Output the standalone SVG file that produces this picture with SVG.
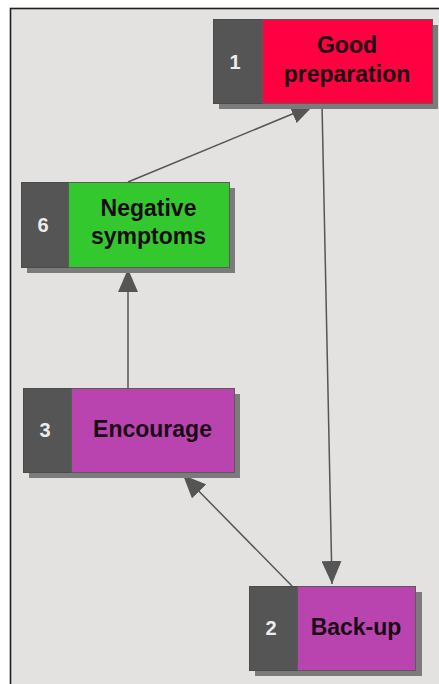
<svg xmlns="http://www.w3.org/2000/svg" width="439" height="684" viewBox="0 0 439 684">
  <style>
    .shadow { fill: #7b7b7b; }
    .tab { fill: #555555; stroke: #4a4a4a; stroke-width: 1; }
    .body { stroke: #5a5a5a; stroke-width: 1; }
    .num { font-family: "Liberation Sans", Arial, sans-serif; font-weight: bold; font-size: 20px; fill: #ececec; text-anchor: middle; }
    .label { font-family: "Liberation Sans", Arial, sans-serif; font-weight: bold; font-size: 23px; fill: #1a0a14; text-anchor: middle; }
    .edge { stroke: #555555; stroke-width: 1.5; fill: none; marker-end: url(#arrow); }
  </style>
  <defs>
    <marker id="arrow" markerUnits="userSpaceOnUse" markerWidth="24" markerHeight="20" refX="23" refY="10" orient="auto">
      <path d="M0,0 L23,10 L0,20 Z" fill="#555555"/>
    </marker>
  </defs>

  <!-- page background and frame -->
  <rect x="0" y="0" width="439" height="684" fill="#ffffff"/>
  <rect x="10.5" y="8.5" width="440" height="690" fill="#e3e2e0" stroke="#1e1e1e" stroke-width="1.6"/>

  <!-- connectors -->
  <g id="connectors">
    <line class="edge" x1="322" y1="104" x2="332" y2="584"/>
    <line class="edge" x1="128" y1="182" x2="314" y2="105"/>
    <line class="edge" x1="128" y1="388" x2="128" y2="269"/>
    <line class="edge" x1="292" y1="586" x2="183" y2="475"/>
  </g>

  <!-- node 1 -->
  <g id="node1">
    <rect class="shadow" x="219" y="25" width="219" height="84"/>
    <rect class="tab" x="213.5" y="19.5" width="49" height="84"/>
    <rect class="body" x="262.5" y="19.5" width="170" height="84" fill="#ff0040"/>
    <text class="num" x="235" y="69">1</text>
    <text class="label" x="347" y="53">Good</text>
    <text class="label" x="347" y="82">preparation</text>
  </g>

  <!-- node 6 -->
  <g id="node6">
    <rect class="shadow" x="27" y="188" width="208" height="85"/>
    <rect class="tab" x="21.5" y="182.5" width="47" height="85"/>
    <rect class="body" x="68.5" y="182.5" width="161" height="85" fill="#33c92e"/>
    <text class="num" x="43" y="232">6</text>
    <text class="label" x="148.5" y="216">Negative</text>
    <text class="label" x="148.5" y="244">symptoms</text>
  </g>

  <!-- node 3 -->
  <g id="node3">
    <rect class="shadow" x="29" y="394" width="211" height="84"/>
    <rect class="tab" x="23.5" y="388.5" width="48" height="84"/>
    <rect class="body" x="71.5" y="388.5" width="163" height="84" fill="#b944b0"/>
    <text class="num" x="45" y="437">3</text>
    <text class="label" x="152.5" y="437">Encourage</text>
  </g>

  <!-- node 2 -->
  <g id="node2">
    <rect class="shadow" x="255" y="592" width="167" height="84"/>
    <rect class="tab" x="249.5" y="586.5" width="48" height="84"/>
    <rect class="body" x="297.5" y="586.5" width="118" height="84" fill="#b944b0"/>
    <text class="num" x="271" y="635">2</text>
    <text class="label" x="356" y="635">Back-up</text>
  </g>
</svg>
